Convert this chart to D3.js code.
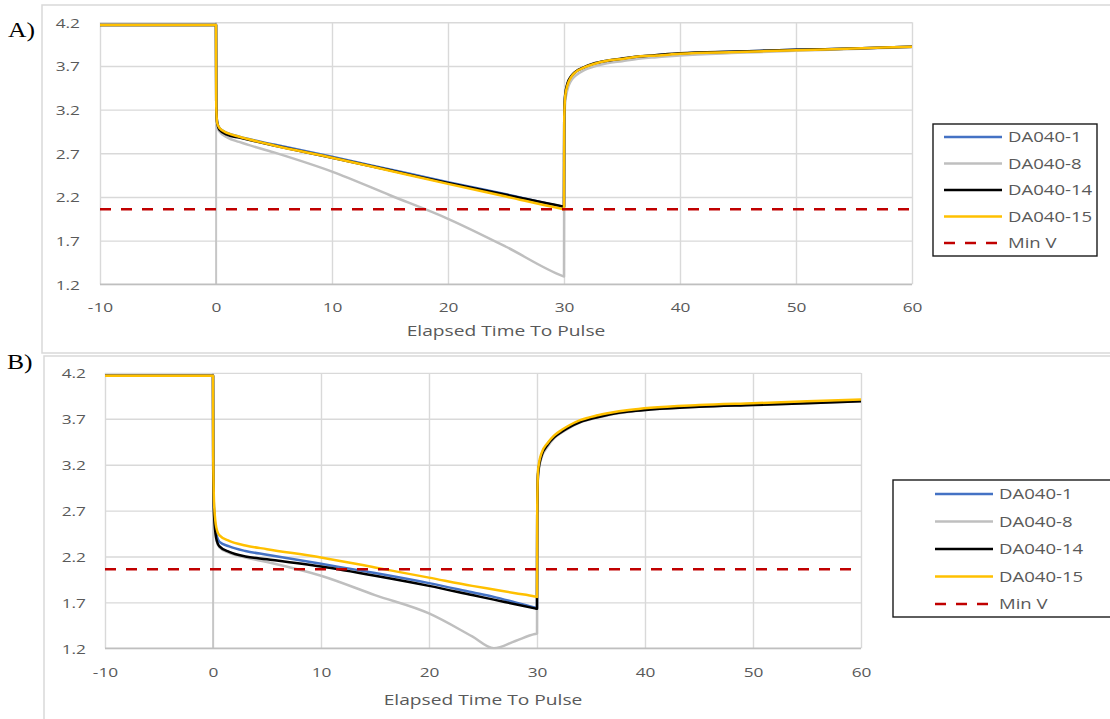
<!DOCTYPE html>
<html>
<head>
<meta charset="utf-8">
<script src="https://cdn.jsdelivr.net/npm/d3@7"></script>
<style>
  body { margin: 0; background: #fff; }
  text { font-family: "Open Sans", sans-serif; fill: #595959; }
</style>
</head>
<body>
<svg width="1110" height="719"></svg>
<script>
/* series + axis data */
var seriesNames = ["DA040-1", "DA040-8", "DA040-14", "DA040-15"];
var seriesColors = ["#4472C4", "#BFBFBF", "#000000", "#FFC000"];
var minV = 2.06;
var xTicks = [-10, 0, 10, 20, 30, 40, 50, 60];
var yTicks = [1.2, 1.7, 2.2, 2.7, 3.2, 3.7, 4.2];

// panel A
var timeA = [-10, 0, 0.02, 0.1, 0.3, 1, 2, 5, 10, 15, 20, 25, 29.8, 30,
             30.02, 30.1, 30.3, 30.6, 31, 31.7, 32.5, 33.7, 35, 36.6, 38, 40, 45, 50, 55, 60];
var a1  = [4.17, 4.17, 3.25, 3.06, 2.99, 2.93, 2.89, 2.80, 2.66, 2.515, 2.37, 2.23, 2.09, 2.085,
           3.12, 3.36, 3.49, 3.57, 3.63, 3.68, 3.72, 3.76, 3.78, 3.81, 3.82, 3.84, 3.865, 3.885, 3.90, 3.92];
var a8  = [4.17, 4.17, 3.20, 3.00, 2.95, 2.88, 2.83, 2.71, 2.49, 2.22, 1.95, 1.63, 1.30, 1.29,
           2.90, 3.28, 3.43, 3.53, 3.59, 3.65, 3.69, 3.73, 3.755, 3.785, 3.80, 3.82, 3.85, 3.875, 3.895, 3.915];
var a14 = [4.17, 4.17, 3.25, 3.05, 2.97, 2.91, 2.88, 2.79, 2.65, 2.505, 2.36, 2.225, 2.095, 2.09,
           3.12, 3.37, 3.50, 3.58, 3.635, 3.685, 3.725, 3.76, 3.785, 3.81, 3.825, 3.845, 3.865, 3.885, 3.90, 3.92];
var a15 = [4.17, 4.17, 3.25, 3.05, 2.99, 2.93, 2.89, 2.79, 2.65, 2.50, 2.35, 2.205, 2.065, 2.06,
           3.10, 3.35, 3.48, 3.57, 3.63, 3.68, 3.72, 3.76, 3.78, 3.81, 3.82, 3.84, 3.86, 3.88, 3.90, 3.92];

// panel B
var timeB = [-10, 0, 0.02, 0.1, 0.3, 0.6, 1.5, 3, 5, 10, 15, 20, 24, 26, 28, 29.8, 30,
             30.02, 30.1, 30.4, 31, 31.6, 32.3, 33, 34, 35.5, 36.8, 38.5, 40.5, 45, 50, 55, 60];
var b1  = [4.17, 4.17, 3.20, 2.70, 2.45, 2.36, 2.31, 2.26, 2.22, 2.12, 2.02, 1.91, 1.81, 1.76, 1.70, 1.645, 1.64,
           2.65, 3.12, 3.30, 3.43, 3.51, 3.57, 3.62, 3.675, 3.725, 3.755, 3.785, 3.81, 3.84, 3.86, 3.88, 3.90];
var b8  = [4.17, 4.17, 3.10, 2.62, 2.38, 2.30, 2.24, 2.19, 2.14, 1.99, 1.78, 1.58, 1.33, 1.20, 1.28, 1.355, 1.36,
           2.60, 3.08, 3.27, 3.40, 3.49, 3.55, 3.60, 3.66, 3.71, 3.745, 3.775, 3.80, 3.83, 3.85, 3.87, 3.89];
var b14 = [4.17, 4.17, 3.15, 2.65, 2.40, 2.31, 2.25, 2.20, 2.17, 2.09, 1.99, 1.88, 1.78, 1.73, 1.68, 1.635, 1.63,
           2.65, 3.10, 3.29, 3.42, 3.50, 3.56, 3.61, 3.665, 3.715, 3.75, 3.78, 3.80, 3.83, 3.85, 3.87, 3.89];
var b15 = [4.17, 4.17, 3.30, 2.78, 2.52, 2.43, 2.37, 2.32, 2.28, 2.19, 2.08, 1.97, 1.88, 1.84, 1.80, 1.765, 1.76,
           2.70, 3.14, 3.32, 3.44, 3.52, 3.58, 3.63, 3.685, 3.735, 3.765, 3.795, 3.82, 3.85, 3.87, 3.89, 3.91];

// the reference picture is stretched sideways, so text gets the same stretch
var SX = 1.28;
var svg = d3.select("svg");

function stretchText(parent, x, y, str, size, anchor) {
    return parent.append("text")
        .attr("transform", "translate(" + x + "," + y + ") scale(" + SX + ",1)")
        .attr("text-anchor", anchor || "start")
        .style("font-size", size + "px")
        .text(str);
}

function drawPanel(p) {
    var g = svg.append("g");

    // outer frame
    g.append("rect")
        .attr("x", p.frame[0]).attr("y", p.frame[1])
        .attr("width", p.frame[2]).attr("height", p.frame[3])
        .attr("fill", "none").attr("stroke", "#d9d9d9").attr("stroke-width", 1.5);

    var x = d3.scaleLinear().domain([-10, 60]).range([p.left, p.right]),
        y = d3.scaleLinear().domain([1.2, 4.2]).range([p.bottom, p.top]);

    // grid + tick labels
    var gx = g.append("g")
        .attr("transform", "translate(0," + p.bottom + ")")
        .call(d3.axisBottom(x).tickValues(xTicks).tickSize(-(p.bottom - p.top))
            .tickFormat(function(d) { return String(d); }));
    var gy = g.append("g")
        .attr("transform", "translate(" + p.left + ",0)")
        .call(d3.axisLeft(y).tickValues(yTicks).tickSize(-(p.right - p.left)).tickFormat(d3.format(".1f")));
    [gx, gy].forEach(function(a) {
        a.select(".domain").remove();
        a.selectAll("line").attr("stroke", "#d9d9d9").attr("stroke-width", 1.4);
        a.selectAll("text").style("font-size", "13.5px").attr("fill", "#595959");
        a.attr("font-family", null);
    });
    gx.selectAll("text").attr("y", 0).attr("dy", null)
        .attr("transform", "translate(0," + p.xLabelDy + ") scale(" + SX + ",1)");
    gy.selectAll("text").attr("x", 0).attr("dy", "0.35em")
        .attr("transform", "translate(" + (-p.yLabelPad) + ",0) scale(" + SX + ",1)");

    // axis lines (value axis crosses at x = 0)
    g.append("line")
        .attr("x1", p.left).attr("x2", p.right).attr("y1", p.bottom).attr("y2", p.bottom)
        .attr("stroke", "#bfbfbf").attr("stroke-width", 1.5);
    g.append("line")
        .attr("x1", x(0)).attr("x2", x(0)).attr("y1", p.top).attr("y2", p.bottom)
        .attr("stroke", "#bfbfbf").attr("stroke-width", 1.5);

    var clipId = "clip" + p.name;
    svg.append("clipPath").attr("id", clipId).append("rect")
        .attr("x", p.left - 2).attr("y", p.top - 3)
        .attr("width", p.right - p.left + 4).attr("height", p.bottom - p.top + 4);

    var line = d3.line()
        .curve(d3.curveMonotoneX)
        .x(function(d) { return x(d[0]); })
        .y(function(d) { return y(d[1]); });

    var plot = g.append("g").attr("clip-path", "url(#" + clipId + ")");
    p.series.forEach(function(vals, i) {
        plot.append("path")
            .datum(d3.zip(p.time, vals))
            .attr("d", line)
            .attr("fill", "none")
            .attr("stroke", seriesColors[i])
            .attr("stroke-width", 2.5)
            .attr("stroke-linejoin", "round");
    });

    plot.append("line")
        .attr("x1", x(-10)).attr("x2", x(60)).attr("y1", y(minV)).attr("y2", y(minV))
        .attr("stroke", "#C00000").attr("stroke-width", 2.5).attr("stroke-dasharray", "11,10");

    // axis title + panel letter
    stretchText(g, (p.left + p.right) / 2, p.titleY, "Elapsed Time To Pulse", 15, "middle");
    g.append("text")
        .attr("transform", "translate(" + p.letter[0] + "," + p.letter[1] + ") scale(" + SX + ",1)")
        .style("font-family", "'Liberation Serif', 'Times New Roman', serif")
        .style("font-size", "20px").style("fill", "#000")
        .text(p.name + ")");

    // legend
    var L = p.legend;
    g.append("rect")
        .attr("x", L.x).attr("y", L.y).attr("width", L.w).attr("height", L.h)
        .attr("fill", "#fff").attr("stroke", "#1a1a1a").attr("stroke-width", 1.4);
    var names = seriesNames.concat(["Min V"]);
    names.forEach(function(n, i) {
        var cy = L.row0 + i * L.step;
        g.append("line")
            .attr("x1", L.lx).attr("x2", L.lx + 58).attr("y1", cy).attr("y2", cy)
            .attr("stroke", i < 4 ? seriesColors[i] : "#C00000")
            .attr("stroke-width", 2.5)
            .attr("stroke-dasharray", i < 4 ? null : "11,10");
        stretchText(g, L.lx + 64, cy + 5, n, 14.5);
    });
}

drawPanel({
    name: "A", time: timeA, series: [a1, a8, a14, a15],
    frame: [42, 5, 1075, 348],
    left: 100, right: 912, top: 22.3, bottom: 284.3,
    xLabelDy: 28, yLabelPad: 20, titleY: 336, letter: [8, 37],
    legend: {x: 933, y: 124, w: 164, h: 132, lx: 944, row0: 137, step: 26.5}
});

drawPanel({
    name: "B", time: timeB, series: [b1, b8, b14, b15],
    frame: [44, 356, 1075, 370],
    left: 105, right: 861, top: 372.9, bottom: 648.3,
    xLabelDy: 29, yLabelPad: 19, titleY: 705, letter: [7, 369],
    legend: {x: 893, y: 480, w: 230, h: 137, lx: 935, row0: 494, step: 27.5}
});
</script>
</body>
</html>
